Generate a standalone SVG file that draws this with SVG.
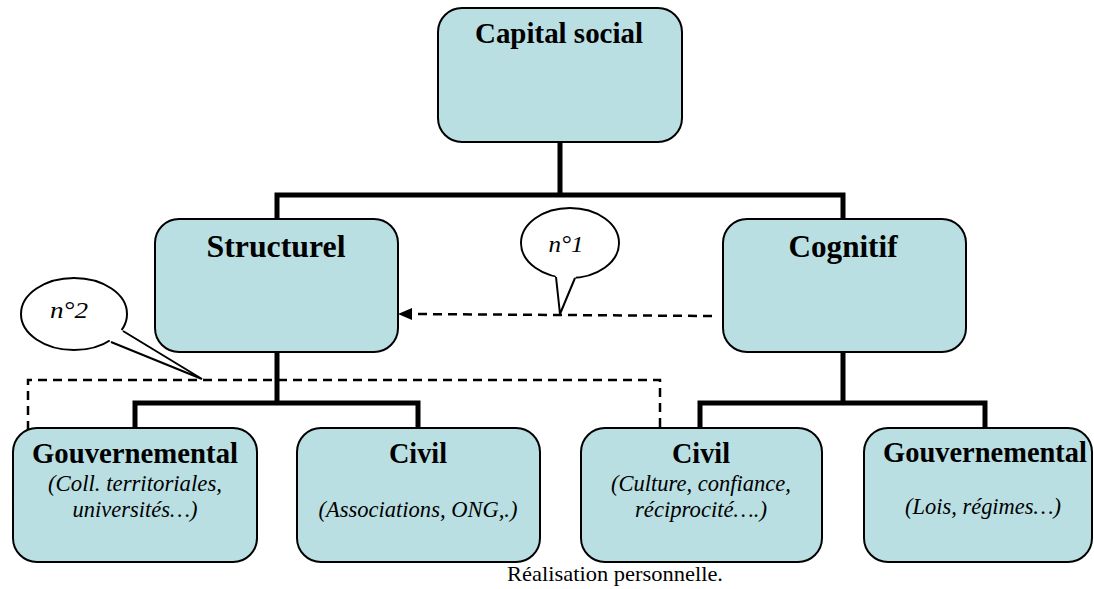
<svg xmlns="http://www.w3.org/2000/svg" width="1094" height="589" viewBox="0 0 1094 589">
<style>
.box{fill:#b9dfe2;stroke:#000;stroke-width:2}
.conn{fill:none;stroke:#000;stroke-width:5;stroke-linecap:square}
.dash{fill:none;stroke:#000;stroke-width:2.5;stroke-dasharray:9 6}
text{font-family:"Liberation Serif","Times New Roman","Noto Serif CJK SC","Noto Serif CJK JP",serif;fill:#000}
.t{font-weight:bold;text-anchor:middle}
.s{font-style:italic;font-size:22.5px;text-anchor:middle}
.bubble{fill:#fff;stroke:#000;stroke-width:2}
.cap{font-style:italic;font-size:24px;text-anchor:middle}
</style>
<rect width="1094" height="589" fill="#fff"/>
<g id="connectors">
<path class="conn" d="M560,142 V195 M277,195 H843 M277,195 V219 M843,195 V219"/>
<path class="conn" d="M277,352 V403 M135,403 H418 M135,403 V428 M418,403 V428"/>
<path class="conn" d="M843,352 V403 M700,403 H985 M700,403 V428 M985,403 V428"/>
<path class="dash" d="M712,316 L410,314"/>
<polygon points="398,314 412,308 412,320" fill="#000"/>
<path class="dash" d="M660,427 V380 H28 V458"/>
<polygon points="22,456 35,456 28.5,473" fill="#000"/>
</g>
<g id="capital-social">
<rect class="box" x="438" y="8" width="244" height="134" rx="24"/>
<text class="t" x="559" y="43" font-size="29" textLength="168" lengthAdjust="spacingAndGlyphs">Capital social</text>
</g>
<g id="structurel">
<rect class="box" x="155" y="219" width="243" height="133" rx="24"/>
<text class="t" x="276" y="257" font-size="31" textLength="139" lengthAdjust="spacingAndGlyphs">Structurel</text>
</g>
<g id="cognitif">
<rect class="box" x="723" y="219" width="243" height="133" rx="24"/>
<text class="t" x="843" y="257" font-size="31" textLength="109" lengthAdjust="spacingAndGlyphs">Cognitif</text>
</g>
<g id="gouvernemental-1">
<rect class="box" x="13" y="428" width="244" height="134" rx="24"/>
<text class="t" x="135" y="463" font-size="29" textLength="206" lengthAdjust="spacingAndGlyphs">Gouvernemental</text>
<text class="s" x="135" y="491" textLength="174" lengthAdjust="spacingAndGlyphs">(Coll. territoriales,</text>
<text class="s" x="135" y="517" textLength="125" lengthAdjust="spacingAndGlyphs">universités…)</text>
</g>
<g id="civil-1">
<rect class="box" x="297" y="428" width="243" height="134" rx="24"/>
<text class="t" x="418" y="463" font-size="29" textLength="58" lengthAdjust="spacingAndGlyphs">Civil</text>
<text class="s" x="418" y="517" textLength="199" lengthAdjust="spacingAndGlyphs">(Associations, ONG,.)</text>
</g>
<g id="civil-2">
<rect class="box" x="581" y="428" width="241" height="134" rx="24"/>
<text class="t" x="701" y="463" font-size="29" textLength="58" lengthAdjust="spacingAndGlyphs">Civil</text>
<text class="s" x="701" y="491" textLength="180" lengthAdjust="spacingAndGlyphs">(Culture, confiance,</text>
<text class="s" x="701" y="517" textLength="132" lengthAdjust="spacingAndGlyphs">réciprocité….)</text>
</g>
<g id="gouvernemental-2">
<rect class="box" x="864" y="428" width="228" height="134" rx="24"/>
<text class="t" x="985" y="462" font-size="29" textLength="204" lengthAdjust="spacingAndGlyphs">Gouvernemental</text>
<text class="s" x="983" y="514" textLength="156" lengthAdjust="spacingAndGlyphs">(Lois, régimes…)</text>
</g>
<g id="callout-n1">
<ellipse class="bubble" cx="570" cy="243" rx="49" ry="35"/>
<polygon points="553,270 578,270 575,279 560,314 556,277" fill="#fff"/>
<polyline points="556,277 560,314 575,278" fill="none" stroke="#000" stroke-width="2"/>
<text class="cap" x="566" y="252" textLength="35" lengthAdjust="spacingAndGlyphs">n°1</text>
</g>
<g id="callout-n2">
<ellipse class="bubble" cx="74" cy="314" rx="53" ry="36"/>
<polygon points="118,326 126,335 123,331 202,379 111,342 106,336" fill="#fff"/>
<polyline points="123,331 202,379 111,342" fill="none" stroke="#000" stroke-width="2"/>
<text class="cap" x="69" y="318" textLength="38" lengthAdjust="spacingAndGlyphs">n°2</text>
</g>
<text x="615" y="581" font-size="21" text-anchor="middle" textLength="216" lengthAdjust="spacingAndGlyphs" fill="#222">Réalisation personnelle.</text>
</svg>
